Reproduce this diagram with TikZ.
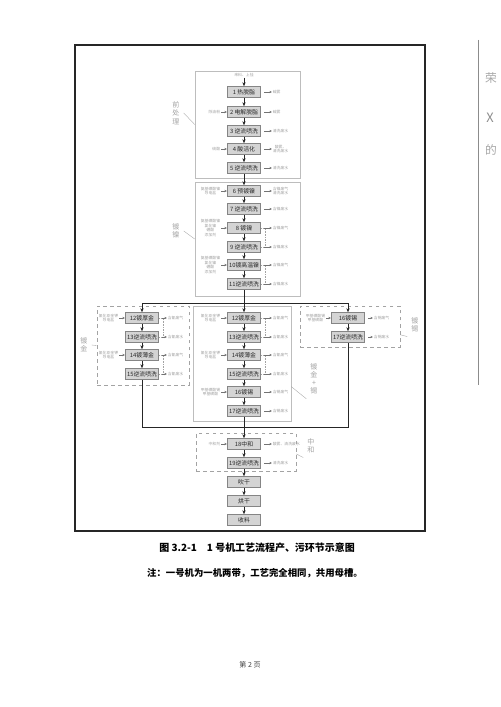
\documentclass[tikz,border=0pt]{standalone}
\usepackage{fontspec}
\setmainfont{Noto Sans CJK SC}
\usetikzlibrary{arrows.meta, positioning, calc}
\definecolor{cbox}{HTML}{D4D4D4}
\definecolor{cedge}{HTML}{858585}
\definecolor{cgrey}{HTML}{A3A3A3}
\definecolor{czone}{HTML}{BDBDBD}
\tikzset{
  every picture/.style={line width=0.5pt},
  box/.style={draw=cedge, fill=cbox, minimum width=1.0cm, minimum height=0.33cm, inner sep=1pt, font=\fontsize{5}{6}\selectfont, text=black!85},
  arrow/.style={-{Stealth[length=1.2mm, width=1mm]}, draw=black!85, line width=0.55pt},
  flow/.style={draw=black!85, line width=0.55pt},
  sidetext/.style={font=\fontsize{3.3}{3.9}\selectfont, text=cgrey, align=center, inner sep=0.5pt},
  sidearrow/.style={-{Stealth[length=0.8mm, width=0.7mm]}, draw=black!55, line width=0.4pt},
  grp/.style={draw=czone, line width=0.5pt, inner sep=0pt, minimum width=#1},
  dgrp/.style={draw=cgrey, dashed, line width=0.5pt, inner sep=0pt, minimum width=#1},
  zone/.style={font=\fontsize{6}{7}\selectfont, text=cgrey, align=center},
  leader/.style={draw=cgrey, line width=0.3pt},
  backflow/.style={draw=cgrey, densely dotted, line width=0.4pt},
}

\begin{document}
\begin{tikzpicture}[x=0.03cm, y=-0.03cm]
  \useasboundingbox (0,0) rectangle (500,707);
  \draw[black!85, line width=1pt] (75,45) rectangle (425,531);
  \draw[black!45, line width=0.4pt] (478,40) -- (478,385);
  \node[text=black!35, font=\fontsize{10}{12}\selectfont] (s1) at (491,78) {荣};
  \node[text=black!45, font=\fontsize{11}{12}\selectfont] (s2) at (490,118) {X};
  \node[text=black!35, font=\fontsize{10}{12}\selectfont] (s3) at (491,150) {的};

  % process zones
  \node[grp=3.15cm, minimum height=3.21cm] (g1) at (247.5,124.5) {};
  \node[grp=3.15cm, minimum height=3.42cm] (g2) at (247.5,239) {};
  \node[grp=2.94cm, minimum height=3.45cm] (g3) at (242,363.5) {};
  \node[dgrp=2.76cm, minimum height=2.37cm] (g4) at (143,345.5) {};
  \node[dgrp=3cm, minimum height=1.23cm] (g5) at (350,326.5) {};
  \node[dgrp=3cm, minimum height=1.14cm] (g6) at (246,452) {};

  \node[zone] (zpre) at (176,113) {前\\处\\理};
  \node[zone] (znic) at (176,231) {镀\\镍};
  \node[zone] (zgold) at (84,345) {镀\\金};
  \node[zone] (zmix) at (314,379) {镀\\金\\+\\锡};
  \node[zone] (ztin) at (415,325) {镀\\锡};
  \node[zone] (zneu) at (311,446) {中\\和};
  \draw[leader] (zpre.east) -- (g1.west);
  \draw[leader] (znic.east) -- (g2.west);
  \draw[leader] (zgold.east) -- (g4.west);
  \draw[leader] (zmix.south west) -- ($(g3.south east)!0.3!(g3.north east)$);
  \draw[leader] (ztin.south west) -- ($(g5.south east)!0.3!(g5.north east)$);
  \draw[leader] (zneu.south west) -- ($(g6.south east)!0.45!(g6.north east)$);

  % main line
  \node[sidetext] (src) at (244,75) {来料、上挂};
  \node[box] (p1) at (244,92) {1 热脱脂};
  \node[box] (p2) at (244,112) {2 电解脱脂};
  \node[box] (p3) at (244,131) {3 逆流喷洗};
  \node[box] (p4) at (244,149) {4 酸活化};
  \node[box] (p5) at (244,168) {5 逆流喷洗};
  \node[box] (p6) at (244,191) {6 预镀镍};
  \node[box] (p7) at (244,209) {7 逆流喷洗};
  \node[box] (p8) at (244,228) {8 镀镍};
  \node[box] (p9) at (244,247) {9 逆流喷洗};
  \node[box] (p10) at (244,265) {10镀高温镍};
  \node[box] (p11) at (244,284) {11逆流喷洗};
  \node[box] (m12) at (244,318) {12镀厚金};
  \node[box] (m13) at (244,337) {13逆流喷洗};
  \node[box] (m14) at (244,355) {14镀薄金};
  \node[box] (m15) at (244,374) {15逆流喷洗};
  \node[box] (m16) at (244,392) {16镀锡};
  \node[box] (m17) at (244,411) {17逆流喷洗};
  \node[box] (l12) at (142,318) {12镀厚金};
  \node[box] (l13) at (142,337) {13逆流喷洗};
  \node[box] (l14) at (142,355) {14镀薄金};
  \node[box] (l15) at (142,374) {15逆流喷洗};
  \node[box] (r16) at (348,318) {16镀锡};
  \node[box] (r17) at (348,337) {17逆流喷洗};
  \node[box] (p18) at (244,444) {18中和};
  \node[box] (p19) at (244,463) {19逆流喷洗};
  \node[box] (dry) at (244,482) {吹干};
  \node[box] (bake) at (244,501) {烘干};
  \node[box] (done) at (244,520) {收料};

  \draw[arrow] (src) -- (p1);
  \draw[arrow] (p1) -- (p2);
  \draw[arrow] (p2) -- (p3);
  \draw[arrow] (p3) -- (p4);
  \draw[arrow] (p4) -- (p5);
  \draw[arrow] (p5) -- (p6);
  \draw[arrow] (p6) -- (p7);
  \draw[arrow] (p7) -- (p8);
  \draw[arrow] (p8) -- (p9);
  \draw[arrow] (p9) -- (p10);
  \draw[arrow] (p10) -- (p11);
  \coordinate (split) at (244,303);
  \coordinate (join) at (244,427);
  \draw[flow] (p11) -- (split);
  \draw[flow] (l12 |- split) -- (r16 |- split);
  \draw[arrow] (split) -- (m12);
  \draw[arrow] (l12 |- split) -- (l12);
  \draw[arrow] (r16 |- split) -- (r16);
  \draw[arrow] (m12) -- (m13);
  \draw[arrow] (m13) -- (m14);
  \draw[arrow] (m14) -- (m15);
  \draw[arrow] (m15) -- (m16);
  \draw[arrow] (m16) -- (m17);
  \draw[arrow] (l12) -- (l13);
  \draw[arrow] (l13) -- (l14);
  \draw[arrow] (l14) -- (l15);
  \draw[arrow] (r16) -- (r17);
  \draw[flow] (l15) -- (l15 |- join) -- (r17 |- join) -- (r17);
  \draw[flow] (m17) -- (join);
  \draw[arrow] (join) -- (p18);
  \draw[arrow] (p18) -- (p19);
  \draw[arrow] (p19) -- (dry);
  \draw[arrow] (dry) -- (bake);
  \draw[arrow] (bake) -- (done);

  % bath recovery
  \draw[backflow] (p8.east) -- ++(4,0) |- (p9.east);
  \draw[backflow] (p10.east) -- ++(4,0) |- (p11.east);
  \draw[backflow] (m12.east) -- ++(4,0) |- (m13.east);
  \draw[backflow] (m14.east) -- ++(4,0) |- (m15.east);
  \draw[backflow] (l12.east) -- ++(4,0) |- (l13.east);
  \draw[backflow] (l14.east) -- ++(4,0) |- (l15.east);

  % materials in
  \node[sidetext, anchor=east] (i2) at (221,112) {除油粉};
  \node[sidetext, anchor=east] (i4) at (221,149) {硫酸};
  \node[sidetext, anchor=east] (i6) at (221,191) {氨基磺酸镍\\导电盐};
  \node[sidetext, anchor=east] (i8) at (221,228) {氨基磺酸镍\\氯化镍\\硼酸\\添加剂};
  \node[sidetext, anchor=east] (i10) at (221,265) {氨基磺酸镍\\氯化镍\\硼酸\\添加剂};
  \node[sidetext, anchor=east] (im12) at (221,318) {氰化亚金钾\\导电盐};
  \node[sidetext, anchor=east] (im14) at (221,355) {氰化亚金钾\\导电盐};
  \node[sidetext, anchor=east] (im16) at (221,392) {甲基磺酸锡\\甲基磺酸};
  \node[sidetext, anchor=east] (il12) at (119,318) {氰化亚金钾\\导电盐};
  \node[sidetext, anchor=east] (il14) at (119,355) {氰化亚金钾\\导电盐};
  \node[sidetext, anchor=east] (ir16) at (326,318) {甲基磺酸锡\\甲基磺酸};
  \node[sidetext, anchor=east] (i18) at (221,444) {中和剂};
  \draw[sidearrow] (i2) -- (p2);
  \draw[sidearrow] (i4) -- (p4);
  \draw[sidearrow] (i6) -- (p6);
  \draw[sidearrow] (i8) -- (p8);
  \draw[sidearrow] (i10) -- (p10);
  \draw[sidearrow] (im12) -- (m12);
  \draw[sidearrow] (im14) -- (m14);
  \draw[sidearrow] (im16) -- (m16);
  \draw[sidearrow] (il12) -- (l12);
  \draw[sidearrow] (il14) -- (l14);
  \draw[sidearrow] (ir16) -- (r16);
  \draw[sidearrow] (i18) -- (p18);

  % emissions out
  \node[sidetext, anchor=west] (e1) at (272,92) {碱雾};
  \node[sidetext, anchor=west] (e2) at (272,112) {碱雾};
  \node[sidetext, anchor=west] (e3) at (272,131) {清洗废水};
  \node[sidetext, anchor=west] (e4) at (272,149) {酸雾、\\清洗废水};
  \node[sidetext, anchor=west] (e5) at (272,168) {清洗废水};
  \node[sidetext, anchor=west] (e6) at (272,191) {含镍废气\\清洗废水};
  \node[sidetext, anchor=west] (e7) at (272,209) {含镍废水};
  \node[sidetext, anchor=west] (e8) at (272,228) {含镍废气};
  \node[sidetext, anchor=west] (e9) at (272,247) {含镍废水};
  \node[sidetext, anchor=west] (e10) at (272,265) {含镍废气};
  \node[sidetext, anchor=west] (e11) at (272,284) {含镍废水};
  \node[sidetext, anchor=west] (em12) at (272,318) {含氰废气};
  \node[sidetext, anchor=west] (em13) at (272,337) {含氰废水};
  \node[sidetext, anchor=west] (em14) at (272,355) {含氰废气};
  \node[sidetext, anchor=west] (em15) at (272,374) {含氰废水};
  \node[sidetext, anchor=west] (em16) at (272,392) {含锡废气};
  \node[sidetext, anchor=west] (em17) at (272,411) {含锡废水};
  \node[sidetext, anchor=west] (el12) at (167,318) {含氰废气};
  \node[sidetext, anchor=west] (el13) at (167,337) {含氰废水};
  \node[sidetext, anchor=west] (el14) at (167,355) {含氰废气};
  \node[sidetext, anchor=west] (el15) at (167,374) {含氰废水};
  \node[sidetext, anchor=west] (er16) at (373,318) {含锡废气};
  \node[sidetext, anchor=west] (er17) at (373,337) {含锡废水};
  \node[sidetext, anchor=west] (e18) at (272,444) {酸雾、清洗废水};
  \node[sidetext, anchor=west] (e19) at (272,463) {清洗废水};
  \draw[sidearrow, shorten <=3pt] (p1.east) -- (e1.west);
  \draw[sidearrow, shorten <=3pt] (p2.east) -- (e2.west);
  \draw[sidearrow, shorten <=3pt] (p3.east) -- (e3.west);
  \draw[sidearrow, shorten <=3pt] (p4.east) -- (e4.west);
  \draw[sidearrow, shorten <=3pt] (p5.east) -- (e5.west);
  \draw[sidearrow, shorten <=3pt] (p6.east) -- (e6.west);
  \draw[sidearrow, shorten <=3pt] (p7.east) -- (e7.west);
  \draw[sidearrow, shorten <=3pt] (p8.east) -- (e8.west);
  \draw[sidearrow, shorten <=3pt] (p9.east) -- (e9.west);
  \draw[sidearrow, shorten <=3pt] (p10.east) -- (e10.west);
  \draw[sidearrow, shorten <=3pt] (p11.east) -- (e11.west);
  \draw[sidearrow, shorten <=3pt] (m12.east) -- (em12.west);
  \draw[sidearrow, shorten <=3pt] (m13.east) -- (em13.west);
  \draw[sidearrow, shorten <=3pt] (m14.east) -- (em14.west);
  \draw[sidearrow, shorten <=3pt] (m15.east) -- (em15.west);
  \draw[sidearrow, shorten <=3pt] (m16.east) -- (em16.west);
  \draw[sidearrow, shorten <=3pt] (m17.east) -- (em17.west);
  \draw[sidearrow, shorten <=3pt] (l12.east) -- (el12.west);
  \draw[sidearrow, shorten <=3pt] (l13.east) -- (el13.west);
  \draw[sidearrow, shorten <=3pt] (l14.east) -- (el14.west);
  \draw[sidearrow, shorten <=3pt] (l15.east) -- (el15.west);
  \draw[sidearrow, shorten <=3pt] (r16.east) -- (er16.west);
  \draw[sidearrow, shorten <=3pt] (r17.east) -- (er17.west);
  \draw[sidearrow, shorten <=3pt] (p18.east) -- (e18.west);
  \draw[sidearrow, shorten <=3pt] (p19.east) -- (e19.west);

  \node[font=\bfseries\fontsize{8.5}{10}\selectfont] (cap) at (257,548) {图 3.2-1\quad 1 号机工艺流程产、污环节示意图};
  \node[font=\bfseries\fontsize{8}{10}\selectfont] (note) at (255,573) {注：一号机为一机两带，工艺完全相同，共用母槽。};
  \node[font=\fontsize{6}{7}\selectfont, text=black!75] (page) at (250,665) {第 2 页};
\end{tikzpicture}
\end{document}
